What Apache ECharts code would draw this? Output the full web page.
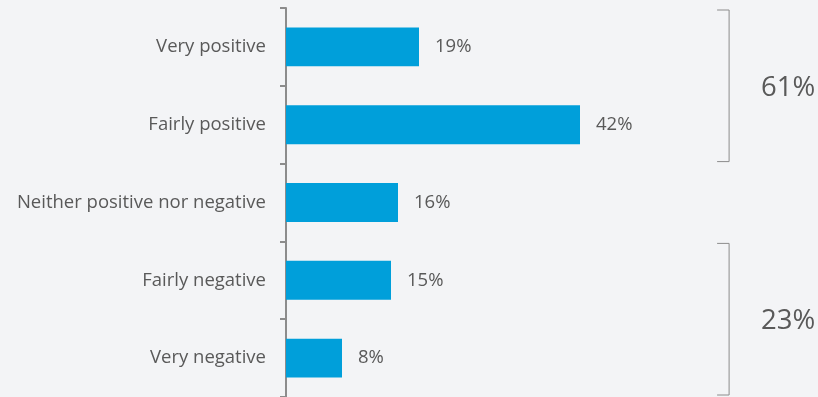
<!DOCTYPE html>
<html>
<head>
<meta charset="utf-8">
<script src="https://cdn.jsdelivr.net/npm/echarts@6/dist/echarts.min.js"></script>
<style>
  html, body { margin: 0; padding: 0; background: #f3f4f6; }
  #chart { width: 818px; height: 397px; }
</style>
</head>
<body>
<div id="chart"></div>
<script>
// Survey answers, top to bottom
const categories = [
  'Very positive',
  'Fairly positive',
  'Neither positive nor negative',
  'Fairly negative',
  'Very negative'
];
const shares = [19, 42, 16, 15, 8];

// Net groups: first/last category index and the combined share
const groupRanges = [[0, 1], [3, 4]];
const groupTotals = [61, 23];

const textColor = '#595959';
const axisColor = '#8c8c8c';
const barColor = '#009fda';
const font = '"Open Sans", sans-serif';

const chart = echarts.init(document.getElementById('chart'));

chart.setOption({
  backgroundColor: '#f3f4f6',
  animation: false,
  grid: { left: 286, right: 112, top: 8, bottom: 0, containLabel: false },
  xAxis: {
    type: 'value',
    min: 0,
    max: 60,
    show: false
  },
  yAxis: {
    type: 'category',
    data: categories,
    inverse: true,
    axisLine: { show: true, lineStyle: { color: axisColor, width: 2 } },
    axisTick: { show: true, length: 6, lineStyle: { color: axisColor, width: 2 } },
    axisLabel: { color: textColor, fontFamily: font, fontSize: 18.5, margin: 20 }
  },
  series: [
    {
      type: 'bar',
      data: shares,
      barWidth: '50%',
      itemStyle: { color: barColor },
      label: {
        show: true,
        position: 'right',
        distance: 16,
        formatter: '{c}%',
        color: textColor,
        fontFamily: font,
        fontSize: 18.5
      }
    },
    {
      // brackets grouping neighbouring answers, with the net share
      type: 'custom',
      clip: false,
      data: groupRanges.map((r, i) => [r[0], r[1], groupTotals[i]]),
      renderItem: function (params, api) {
        const first = api.value(0);
        const last = api.value(1);
        const band = api.size([0, 1])[1];
        const top = api.coord([0, first])[1] - band / 2 + 2;
        const bottom = api.coord([0, last])[1] + band / 2 - 2;
        const x = api.coord([63.3, 0])[0];
        const arm = 12;
        return {
          type: 'group',
          children: [
            {
              type: 'polyline',
              shape: { points: [[x - arm, top], [x, top], [x, bottom], [x - arm, bottom]] },
              style: { stroke: axisColor, lineWidth: 1, fill: null }
            },
            {
              type: 'text',
              style: {
                x: x + 59,
                y: (top + bottom) / 2 + 2,
                text: api.value(2) + '%',
                fill: textColor,
                font: '27.5px ' + font,
                textAlign: 'center',
                textVerticalAlign: 'middle'
              }
            }
          ]
        };
      }
    }
  ]
});
</script>
</body>
</html>
